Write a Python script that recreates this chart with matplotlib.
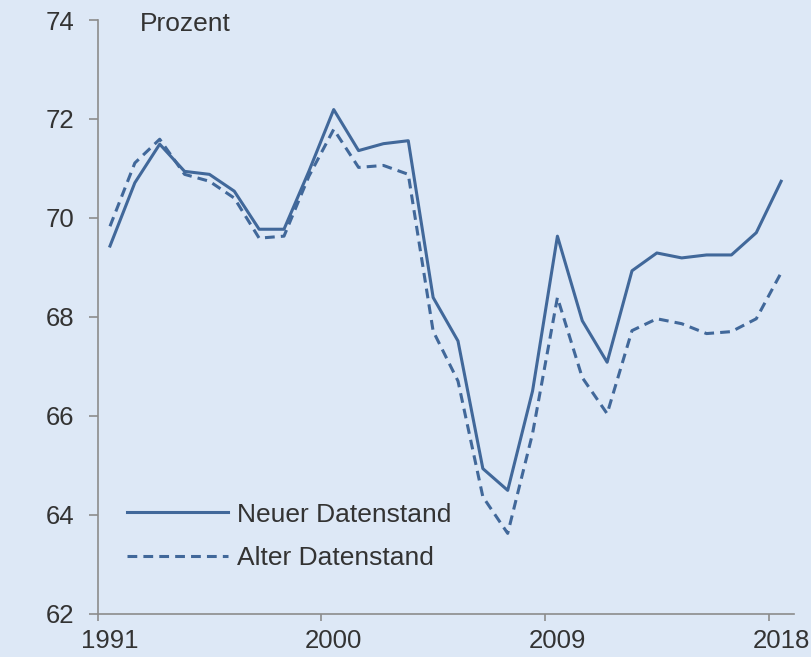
import matplotlib
matplotlib.use('Agg')
import matplotlib.pyplot as plt
import numpy as np

# 字体
plt.rcParams['font.family'] = ['Liberation Sans', 'DejaVu Sans']

# 数据（Prozent, 1991-2018）
jahre = list(range(1991, 2019))
neuer_datenstand = [69.43, 70.71, 71.49, 70.94, 70.88, 70.54, 69.77, 69.77, 70.94, 72.19,
                    71.36, 71.50, 71.56, 68.39, 67.51, 64.93, 64.49, 66.50, 69.63, 67.92,
                    67.08, 68.93, 69.29, 69.19, 69.25, 69.25, 69.70, 70.74]
alter_datenstand = [69.83, 71.11, 71.59, 70.88, 70.74, 70.40, 69.59, 69.63, 70.84, 71.79,
                    71.02, 71.06, 70.88, 67.71, 66.70, 64.36, 63.62, 65.64, 68.39, 66.77,
                    66.04, 67.72, 67.96, 67.86, 67.66, 67.70, 67.96, 68.89]
x_ticks = [1991, 2000, 2009, 2018]
y_ticks = [62, 64, 66, 68, 70, 72, 74]

bg = '#dde8f6'
line_col = '#41689a'
axis_col = '#8c8c8c'
text_col = '#333333'

fig = plt.figure(figsize=(8.11, 6.57), dpi=100, facecolor=bg)
ax = fig.add_axes([0.1203, 0.0662, 0.8582, 0.9033], facecolor=bg)

# Kategorien: Punkte in der Mitte des Jahres-Slots
xpos = np.array(jahre) + 0.5
ax.plot(xpos, neuer_datenstand, color=line_col, linewidth=2.2, label='Neuer Datenstand')
ax.plot(xpos, alter_datenstand, color=line_col, linewidth=2.2, linestyle=(0, (3.2, 2.0)),
        label='Alter Datenstand')

ax.set_xlim(1991, 2019)
ax.set_ylim(62, 74)
# Striche an den Slotgrenzen, Beschriftung in der Slotmitte
ax.set_xticks(x_ticks)
ax.set_xticklabels([])
ax.set_xticks([j + 0.5 for j in x_ticks], minor=True)
ax.set_xticklabels([str(j) for j in x_ticks], minor=True)
ax.set_yticks(y_ticks)
ax.set_yticklabels([str(v) for v in y_ticks])

for s in ['top', 'right']:
    ax.spines[s].set_visible(False)
for s in ['left', 'bottom']:
    ax.spines[s].set_color(axis_col)
    ax.spines[s].set_linewidth(1.2)

ax.tick_params(axis='y', direction='out', length=6.5, width=1.2, color=axis_col,
               labelsize=18.5, labelcolor=text_col, pad=10)
ax.tick_params(axis='x', which='major', direction='out', length=5, width=1.2, color=axis_col)
ax.tick_params(axis='x', which='minor', length=0, labelsize=18.5, labelcolor=text_col, pad=11)

ax.text(0.061, 0.993, 'Prozent', transform=ax.transAxes, fontsize=19,
        color=text_col, va='center', ha='left')

ax.legend(loc='center left', bbox_to_anchor=(0.042, 0.13), frameon=False,
          fontsize=19, handlelength=3.85, handletextpad=0.33, labelspacing=0.73,
          borderpad=0, borderaxespad=0, labelcolor=text_col)

fig.savefig('out.png', dpi=100, facecolor=bg)
